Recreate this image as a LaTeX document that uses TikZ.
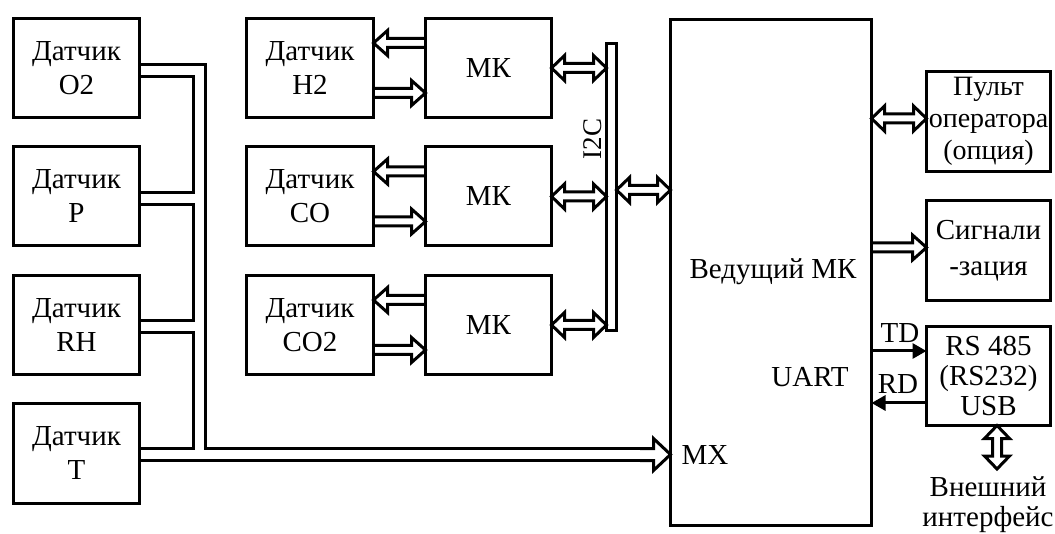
\documentclass[tikz,border=0pt]{standalone}
\usepackage{fontspec}
\setmainfont{Liberation Serif}
\usetikzlibrary{calc,arrows.meta,backgrounds}
\newcommand{\arrR}[5]{\draw[arr] let \p1=(#1), \p2=(#2) in (\x1,\y1+#3) -- (\x2-#5,\y1+#3) -- (\x2-#5,\y1+#4) -- (\x2,\y1) -- (\x2-#5,\y1-#4) -- (\x2-#5,\y1-#3) -- (\x1,\y1-#3);}
\newcommand{\arrL}[5]{\draw[arr] let \p1=(#1), \p2=(#2) in (\x1,\y1+#3) -- (\x2+#5,\y1+#3) -- (\x2+#5,\y1+#4) -- (\x2,\y1) -- (\x2+#5,\y1-#4) -- (\x2+#5,\y1-#3) -- (\x1,\y1-#3);}
\newcommand{\darrH}[5]{\draw[arr] let \p1=(#1), \p2=(#2) in (\x1,\y1) -- (\x1+#5,\y1+#4) -- (\x1+#5,\y1+#3) -- (\x2-#5,\y1+#3) -- (\x2-#5,\y1+#4) -- (\x2,\y1) -- (\x2-#5,\y1-#4) -- (\x2-#5,\y1-#3) -- (\x1+#5,\y1-#3) -- (\x1+#5,\y1-#4) -- cycle;}
\newcommand{\darrV}[5]{\draw[arr] let \p1=(#1), \p2=(#2) in (\x1,\y1) -- (\x1+#4,\y1-#5) -- (\x1+#3,\y1-#5) -- (\x1+#3,\y2+#5) -- (\x1+#4,\y2+#5) -- (\x1,\y2) -- (\x1-#4,\y2+#5) -- (\x1-#3,\y2+#5) -- (\x1-#3,\y1-#5) -- (\x1-#4,\y1-#5) -- cycle;}
\begin{document}
\begin{tikzpicture}[x=1pt,y=-1pt,
  box/.style={draw, line width=3pt, inner sep=0pt, outer sep=0pt, align=center, font=\fontsize{29}{34}\selectfont},
  lbl/.style={inner sep=0pt, align=center, font=\fontsize{29}{34}\selectfont},
  arr/.style={draw, fill=white, line width=3pt, line join=miter, miter limit=10},
  busblack/.style={line width=15pt, line join=miter},
  buswhite/.style={white, line width=9pt, line join=miter},
  thinarr/.style={line width=3pt, -{Triangle[length=14pt,width=15pt]}}]
\useasboundingbox (0,0) rectangle (1055,534);
% left sensors
\node[box, minimum width=126pt, minimum height=99pt] (o2) at (76.5,68) {Датчик\\O2};
\node[box, minimum width=126pt, minimum height=99pt] (p) at (76.5,196.5) {Датчик\\P};
\node[box, minimum width=126pt, minimum height=99pt] (rh) at (76.5,325) {Датчик\\RH};
\node[box, minimum width=126pt, minimum height=100pt] (t) at (76.5,453.5) {Датчик\\T};
% middle sensors and MCUs
\node[box, minimum width=127pt, minimum height=99pt] (h2) at (310,68) {Датчик\\H2};
\node[box, minimum width=127pt, minimum height=99pt] (co) at (310,196.5) {Датчик\\CO};
\node[box, minimum width=127pt, minimum height=99pt] (co2) at (310,325) {Датчик\\CO2};
\node[box, minimum width=126pt, minimum height=99pt] (mk1) at (488.5,68) {МК};
\node[box, minimum width=126pt, minimum height=99pt] (mk2) at (488.5,196.5) {МК};
\node[box, minimum width=126pt, minimum height=99pt] (mk3) at (488.5,325) {МК};
% I2C bar
\node[box, minimum width=10pt, minimum height=287pt] (bus2) at (611.5,187) {};
\node[lbl, rotate=90, font=\fontsize{27}{32}\selectfont] (i2c) at (593,139) {I2C};
% main MCU
\node[box, minimum width=201pt, minimum height=506pt] (mcu) at (771,272.5) {};
\node[lbl] (mcutxt) at (773,272) {Ведущий МК};
\node[lbl] (uart) at (810,377) {UART};
\node[lbl] (mx) at (705,455) {MX};
% right side
\node[box, minimum width=124pt, minimum height=100pt, font=\fontsize{28}{32}\selectfont] (pult) at (988.5,121.5) {Пульт\\оператора\\(опция)};
\node[box, minimum width=124pt, minimum height=100pt, font=\fontsize{29}{36}\selectfont] (sig) at (988.5,250.5) {Сигнали\\-зация};
\node[box, minimum width=124pt, minimum height=99pt, font=\fontsize{29}{30}\selectfont] (rs) at (988.5,376) {RS 485\\(RS232)\\USB};
\node[lbl, font=\fontsize{29}{30}\selectfont] (ext) at (988,505) {Внешний\\интерфейс};
\node[lbl] (td) at (900,333) {TD};
\node[lbl] (rd) at (898,384) {RD};
\coordinate (extin) at (997,469);
% bus coordinates
\coordinate (bA) at (199,70.5);
\coordinate (bP) at (199,198.5);
\coordinate (bR) at (199,326.5);
\coordinate (bB) at (199,454.5);
\coordinate (mxs) at (640,454.5);
\begin{pgfonlayer}{background}
  \draw[busblack] ($(o2.east)+(0,2.5)$) -- (bA) -- (bB);
  \draw[busblack] ($(p.east)+(0,2)$) -- (bP);
  \draw[busblack] ($(rh.east)+(0,1.5)$) -- (bR);
  \draw[busblack] ($(t.east)+(0,1)$) -- (mxs);
  \draw[buswhite] ($(o2.east)+(0,2.5)$) -- (bA) -- (bB);
  \draw[buswhite] ($(p.east)+(0,2)$) -- (bP);
  \draw[buswhite] ($(rh.east)+(0,1.5)$) -- (bR);
  \draw[buswhite] ($(t.east)+(0,1)$) -- (mxs);
  \arrR{mxs}{mcu.west}{6pt}{16pt}{17pt}
  % sensor <-> MK
  \arrL{$(mk1.west)+(0,-25)$}{h2.east}{4.5pt}{12.5pt}{14pt}
  \arrR{$(h2.east)+(0,25)$}{mk1.west}{4.5pt}{12.5pt}{14pt}
  \arrL{$(mk2.west)+(0,-25)$}{co.east}{4.5pt}{12.5pt}{14pt}
  \arrR{$(co.east)+(0,25)$}{mk2.west}{4.5pt}{12.5pt}{14pt}
  \arrL{$(mk3.west)+(0,-25)$}{co2.east}{4.5pt}{12.5pt}{14pt}
  \arrR{$(co2.east)+(0,25)$}{mk3.west}{4.5pt}{12.5pt}{14pt}
  % MK <-> I2C
  \darrH{mk1.east}{bus2.west}{4.5pt}{12.5pt}{13pt}
  \darrH{mk2.east}{bus2.west}{4.5pt}{12.5pt}{13pt}
  \darrH{mk3.east}{bus2.west}{4.5pt}{12.5pt}{13pt}
  \darrH{$(bus2.east)+(0,3)$}{mcu.west}{4.5pt}{12.5pt}{13pt}
  % right side
  \darrH{$(mcu.east |- pult.west)+(0,-3)$}{pult.west}{4.5pt}{12.5pt}{13pt}
  \arrR{$(mcu.east |- sig.west)+(0,-3)$}{sig.west}{4.5pt}{12.5pt}{14pt}
  \darrV{rs.south -| extin}{extin}{4.5pt}{12.5pt}{13pt}
\end{pgfonlayer}
\draw[thinarr] ($(mcu.east |- rs.west)+(0,-25)$) -- ($(rs.west)+(0,-25)$);
\draw[thinarr] ($(rs.west)+(0,27)$) -- ($(mcu.east |- rs.west)+(0,27)$);
\end{tikzpicture}
\end{document}
